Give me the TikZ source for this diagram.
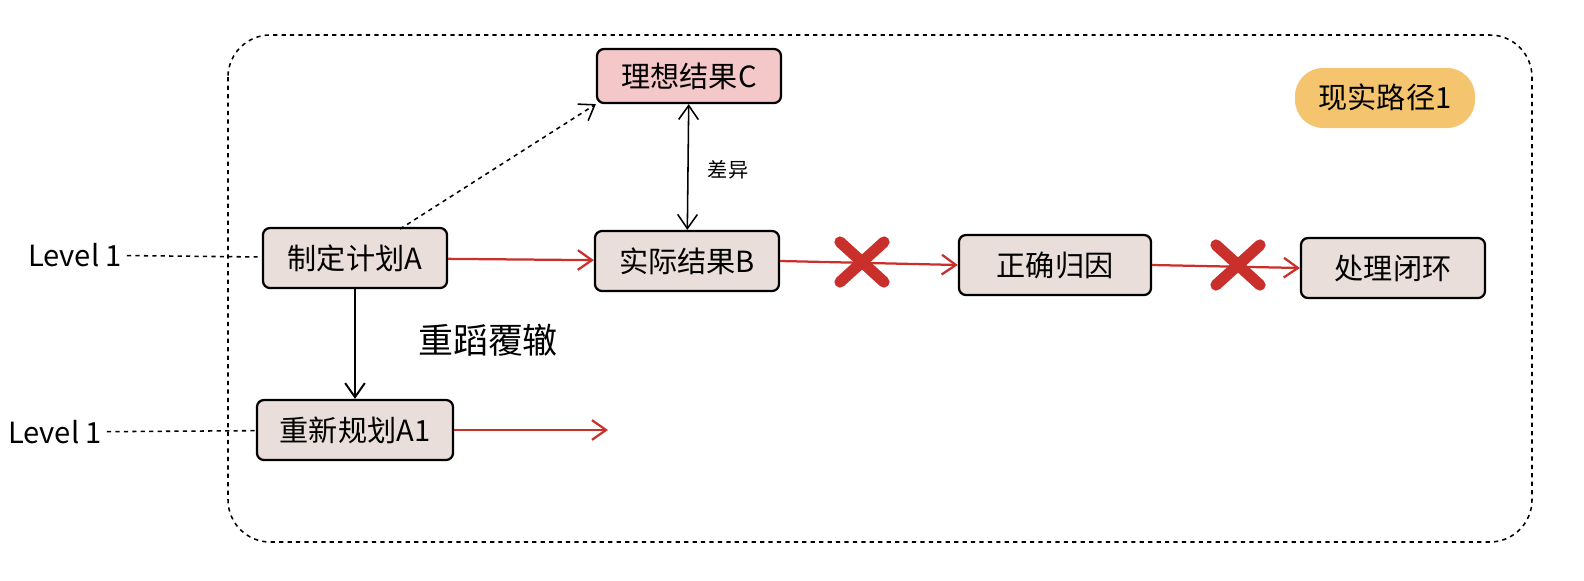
\documentclass[tikz,border=0pt]{standalone}
\usepackage{fontspec}
\setmainfont{Noto Sans CJK SC}
\usetikzlibrary{arrows.meta}
\definecolor{boxfill}{HTML}{E9DEDA}
\definecolor{pinkfill}{HTML}{F4C7C9}
\definecolor{redline}{HTML}{C9302C}
\definecolor{blob}{HTML}{F5C46E}
\tikzset{
  stage/.style={draw, line width=1.6pt, rounded corners=5pt, fill=boxfill, minimum width=4.6cm, minimum height=1.5cm, font=\huge},
  redarrow/.style={redline, line width=1.6pt, -{Straight Barb[length=10pt,width=14pt]}},
  blackarrow/.style={black, line width=1.4pt, -{Straight Barb[length=10pt,width=14pt]}},
  cross/.style={redline, line width=8pt, line cap=round}
}
\begin{document}
\begin{tikzpicture}[x=0.025cm, y=-0.025cm]
\useasboundingbox (0,0) rectangle (1584,580);

% frame
\draw[dashed, line width=1.1pt, rounded corners=30pt] (228,35) rectangle (1532,542);

% label blob
\fill[blob, rounded corners=20pt] (1295,68) rectangle (1475,128);
\node[font=\huge] (path) at (1385,97) {现实路径1};

% stages
\node[stage] (plan) at (355,258) {制定计划A};
\node[stage] (real) at (687,261) {实际结果B};
\node[stage, fill=pinkfill, minimum height=1.35cm] (ideal) at (689,76) {理想结果C};
\node[stage, minimum width=4.8cm] (cause) at (1055,265) {正确归因};
\node[stage] (close) at (1393,268) {处理闭环};
\node[stage, minimum width=4.9cm] (replan) at (355,430) {重新规划A1};

% levels
\node[font=\huge] (lvA) at (75,255) {Level 1};
\node[font=\huge] (lvB) at (55,432) {Level 1};
\draw[dashed, line width=1.1pt] (lvA) -- (plan);
\draw[dashed, line width=1.1pt] (lvB) -- (replan);

% connectors
\draw[redarrow] (plan) -- (real);
\draw[redarrow] (real.east) -- (cause.west);
\draw[redarrow] (cause.east) -- (close.west);
\coordinate (endA) at (608,430);
\draw[redarrow] (replan) -- (endA);
\draw[blackarrow] (plan) -- (replan);
\coordinate (planTop) at (400,229);
\draw[dashed, line width=1.1pt, -{Straight Barb[length=10pt,width=14pt]}] (planTop) -- (ideal.south west);
\draw[line width=1.1pt, {Straight Barb[length=10pt,width=14pt]}-{Straight Barb[length=10pt,width=14pt]}] (ideal) -- (real);
\node[font=\Large] (diff) at (728,170) {差异};
\node[font=\Huge] (redo) at (488,340) {重蹈覆辙};

% crosses
\foreach \cx/\cy in {862/262, 1238/265}
{
  \draw[cross] (\cx-22,\cy-20) -- (\cx+22,\cy+20);
  \draw[cross] (\cx+22,\cy-20) -- (\cx-22,\cy+20);
}
\end{tikzpicture}
\end{document}
